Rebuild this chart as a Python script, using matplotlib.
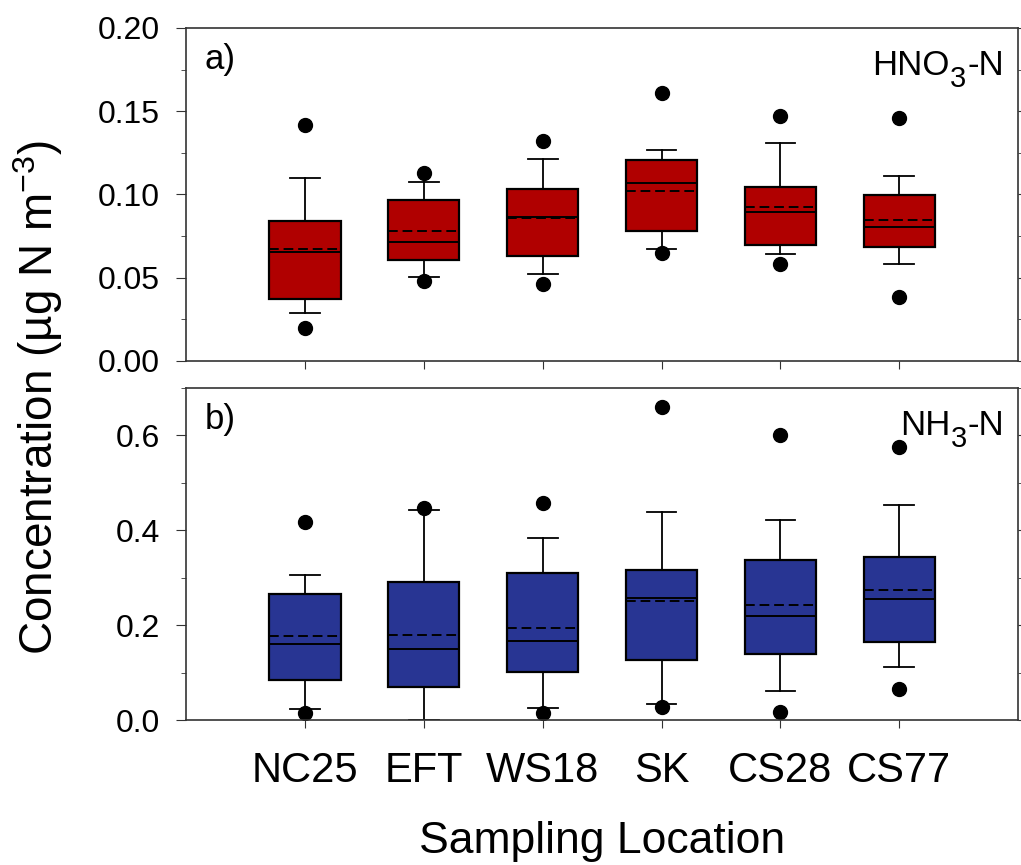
import numpy as np
import matplotlib
matplotlib.use('Agg')
import matplotlib.pyplot as plt
from matplotlib.ticker import MultipleLocator, FormatStrFormatter

plt.rcParams['font.family'] = ['Liberation Sans', 'DejaVu Sans']
plt.rcParams['mathtext.fontset'] = 'custom'
plt.rcParams['mathtext.rm'] = 'Liberation Sans'
plt.rcParams['mathtext.it'] = 'Liberation Sans:italic'

sites = ['NC25', 'EFT', 'WS18', 'SK', 'CS28', 'CS77']

# HNO3-N (panel a)
hno3_p5 = [0.0196, 0.0480, 0.0464, 0.0646, 0.0580, 0.0384]
hno3_p10 = [0.0290, 0.0506, 0.0523, 0.0674, 0.0640, 0.0581]
hno3_q1 = [0.0370, 0.0607, 0.0631, 0.0783, 0.0699, 0.0687]
hno3_med = [0.0657, 0.0717, 0.0865, 0.1067, 0.0895, 0.0807]
hno3_mean = [0.0673, 0.0779, 0.0861, 0.1021, 0.0925, 0.0845]
hno3_q3 = [0.0841, 0.0967, 0.1031, 0.1209, 0.1047, 0.0999]
hno3_p90 = [0.1097, 0.1077, 0.1213, 0.1265, 0.1307, 0.1111]
hno3_p95 = [0.1417, 0.1131, 0.1319, 0.1608, 0.1470, 0.1461]

# NH3-N (panel b)
nh3_p5 = [0.0141, None, 0.0155, 0.0282, 0.0169, 0.0655]
nh3_p10 = [0.0239, 0.0, 0.0254, 0.0331, 0.0606, 0.1120]
nh3_q1 = [0.0845, 0.0704, 0.1014, 0.1268, 0.1394, 0.1648]
nh3_med = [0.1606, 0.1493, 0.1662, 0.2571, 0.2197, 0.2556]
nh3_mean = [0.1768, 0.1803, 0.1930, 0.2514, 0.2415, 0.2747]
nh3_q3 = [0.2648, 0.2909, 0.3091, 0.3162, 0.3366, 0.3437]
nh3_p90 = [0.3057, 0.4430, 0.3845, 0.4395, 0.4219, 0.4543]
nh3_p95 = [0.4169, 0.4479, 0.4578, 0.6606, 0.6000, 0.5754]


def make_stats(p5, p10, q1, med, mean, q3, p90, p95):
    stats = []
    for i in range(len(sites)):
        fl = [v for v in (p5[i], p95[i]) if v is not None]
        stats.append(dict(whislo=p10[i], q1=q1[i], med=med[i], mean=mean[i],
                          q3=q3[i], whishi=p90[i], fliers=np.array(fl)))
    return stats


def draw_panel(ax, stats, color):
    pos = np.arange(1, len(sites) + 1)
    ax.bxp(stats, positions=pos, widths=0.6, patch_artist=True,
           showmeans=True, meanline=True,
           boxprops=dict(facecolor=color, edgecolor='black', linewidth=1.6),
           medianprops=dict(color='black', linewidth=1.4),
           meanprops=dict(color='black', linewidth=1.4, linestyle=(0, (5, 2.5))),
           whiskerprops=dict(color='black', linewidth=1.3),
           capprops=dict(color='black', linewidth=1.3),
           capwidths=0.25,
           flierprops=dict(marker='o', markerfacecolor='black',
                           markeredgecolor='black', markersize=10))
    ax.set_xlim(0, 7)
    ax.set_xticks(pos)
    for s in ax.spines.values():
        s.set_color('#333333')
        s.set_linewidth(1.2)
    ax.tick_params(axis='y', which='both', direction='out', left=True, right=True,
                   labelsize=23, pad=12, color='#333333')
    ax.tick_params(axis='y', which='major', length=7)
    ax.tick_params(axis='y', which='minor', length=3.6)
    ax.tick_params(axis='x', direction='out', length=6, labelsize=30, pad=16,
                   color='#333333')


def species_label(ax, x, y, head, tail):
    # chemical name with a big, low subscript 3
    t1 = ax.text(x, y, head, transform=ax.transAxes, fontsize=25, va='baseline')
    t2 = ax.annotate('3', xy=(1, 0), xycoords=t1, xytext=(0.5, -3.3),
                     textcoords='offset points', fontsize=21, va='baseline')
    ax.annotate(tail, xy=(1, 0), xycoords=(t2, t1), xytext=(0.5, 5.3),
                textcoords='offset points', fontsize=25, va='baseline')


fig = plt.figure(figsize=(10.21, 8.65), dpi=100)
ax1 = fig.add_axes([0.1822, 0.5827, 0.8150, 0.3850])
ax2 = fig.add_axes([0.1822, 0.1676, 0.8150, 0.3838])

#------- panel a
draw_panel(ax1, make_stats(hno3_p5, hno3_p10, hno3_q1, hno3_med, hno3_mean,
                           hno3_q3, hno3_p90, hno3_p95), '#B00000')
ax1.set_ylim(0, 0.20)
ax1.yaxis.set_major_locator(MultipleLocator(0.05))
ax1.yaxis.set_minor_locator(MultipleLocator(0.025))
ax1.yaxis.set_major_formatter(FormatStrFormatter('%.2f'))
ax1.set_xticklabels([])
ax1.text(0.022, 0.955, 'a)', transform=ax1.transAxes, fontsize=25, va='top')
species_label(ax1, 0.8245, 0.858, 'HNO', '-N')

#------- panel b
draw_panel(ax2, make_stats(nh3_p5, nh3_p10, nh3_q1, nh3_med, nh3_mean,
                           nh3_q3, nh3_p90, nh3_p95), '#283593')
ax2.set_ylim(0, 0.70)
ax2.yaxis.set_major_locator(MultipleLocator(0.2))
ax2.yaxis.set_minor_locator(MultipleLocator(0.1))
ax2.yaxis.set_major_formatter(FormatStrFormatter('%.1f'))
ax2.set_xticklabels(sites)
ax2.text(0.022, 0.955, 'b)', transform=ax2.transAxes, fontsize=25, va='top')
species_label(ax2, 0.858, 0.858, 'NH', '-N')
ax2.set_xlabel('Sampling Location', fontsize=32, labelpad=22)

fig.text(0.037, 0.54, r'Concentration (µg N m$^\mathregular{-3}$)', rotation=90,
         fontsize=33, ha='center', va='center')

fig.savefig('out.png', dpi=100)
